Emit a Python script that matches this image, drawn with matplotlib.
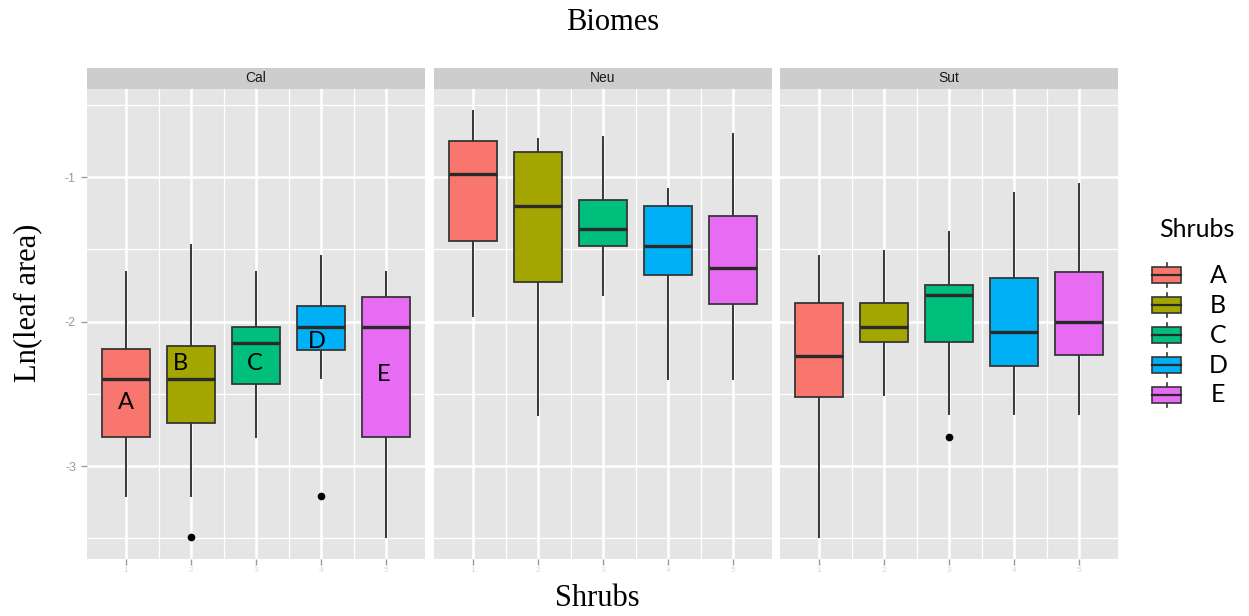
import matplotlib
matplotlib.use("Agg")
import matplotlib.pyplot as plt
from matplotlib.patches import Rectangle
from matplotlib.lines import Line2D

# ---------------- data ----------------
biomes = ["Cal", "Neu", "Sut"]
shrubs = ["A", "B", "C", "D", "E"]
colors = ["#F8766D", "#A3A500", "#00BF7D", "#00B0F6", "#E76BF3"]
x_tick_labels = ["1", "2", "3", "4", "5"]
y_ticks = [-3, -2, -1]
y_tick_labels = ["-3", "-2", "-1"]

whislo = {
    "Cal": [-3.21, -3.21, -2.80, -2.39, -3.49],
    "Neu": [-1.96, -2.65, -1.82, -2.40, -2.40],
    "Sut": [-3.49, -2.51, -2.64, -2.64, -2.64],
}
q1 = {
    "Cal": [-2.80, -2.70, -2.43, -2.20, -2.80],
    "Neu": [-1.44, -1.73, -1.48, -1.68, -1.88],
    "Sut": [-2.52, -2.14, -2.14, -2.31, -2.23],
}
med = {
    "Cal": [-2.40, -2.40, -2.15, -2.04, -2.04],
    "Neu": [-0.98, -1.20, -1.36, -1.48, -1.63],
    "Sut": [-2.24, -2.04, -1.82, -2.07, -2.00],
}
q3 = {
    "Cal": [-2.19, -2.17, -2.04, -1.89, -1.83],
    "Neu": [-0.75, -0.83, -1.16, -1.20, -1.27],
    "Sut": [-1.87, -1.87, -1.75, -1.70, -1.66],
}
whishi = {
    "Cal": [-1.66, -1.47, -1.66, -1.55, -1.66],
    "Neu": [-0.54, -0.74, -0.72, -1.08, -0.70],
    "Sut": [-1.55, -1.51, -1.38, -1.11, -1.05],
}
outliers = {
    "Cal": [[], [-3.49], [], [-3.21], []],
    "Neu": [[], [], [], [], []],
    "Sut": [[], [], [-2.80], [], []],
}

# ---------------- layout ----------------
W, H = 1249, 616
fig = plt.figure(figsize=(W / 100, H / 100), dpi=100)
fig.patch.set_facecolor("white")


def px_axes(x0, y0, x1, y1):
    return fig.add_axes([x0 / W, 1 - y1 / H, (x1 - x0) / W, (y1 - y0) / H])


panel_x = [(87, 425), (434, 772), (780, 1118)]
panel_top, panel_bot = 89, 558.7
strip_top = 68

ylim = (-3.6415, -0.391)
positions = list(range(1, len(shrubs) + 1))

# letter annotations inside Cal boxes (category offset, y)
cal_letter_pos = [(1.0, -2.56), (1.84, -2.29), (2.98, -2.29), (3.93, -2.14), (4.96, -2.37)]

for bi, biome in enumerate(biomes):
    x0, x1 = panel_x[bi]
    ax = px_axes(x0, panel_top, x1, panel_bot)
    ax.set_facecolor("#E5E5E5")
    ax.set_xlim(0.4, 5.6)
    ax.set_ylim(*ylim)
    for s in ax.spines.values():
        s.set_visible(False)

    # grid
    for y in [-3.5, -2.5, -1.5, -0.5]:
        ax.axhline(y, color="white", lw=0.9, zorder=0)
    for y in y_ticks:
        ax.axhline(y, color="white", lw=1.8, zorder=0)
    for x in [1.5, 2.5, 3.5, 4.5]:
        ax.axvline(x, color="white", lw=0.9, zorder=0)
    for x in positions:
        ax.axvline(x, color="white", lw=1.8, zorder=0)

    stats = []
    for i, sh in enumerate(shrubs):
        stats.append(dict(label=sh, med=med[biome][i], q1=q1[biome][i], q3=q3[biome][i],
                          whislo=whislo[biome][i], whishi=whishi[biome][i],
                          fliers=outliers[biome][i]))
    bp = ax.bxp(stats, positions=positions, widths=0.75, patch_artist=True,
                showcaps=False, manage_ticks=False,
                boxprops=dict(edgecolor="#363636", linewidth=1.3),
                medianprops=dict(color="#2a2a2a", linewidth=2.4),
                whiskerprops=dict(color="#363636", linewidth=1.4),
                flierprops=dict(marker="o", markerfacecolor="black",
                                markeredgecolor="black", markersize=4.5))
    for patch, c in zip(bp["boxes"], colors):
        patch.set_facecolor(c)
        patch.set_zorder(3)
    for m in bp["medians"]:
        m.set_zorder(4)

    ax.set_xticks(positions)
    ax.set_xticklabels(x_tick_labels, color="#d8d8d8", fontsize=6,
                       family="Liberation Sans")
    ax.tick_params(axis="x", length=4, width=1, color="#9a9a9a", pad=2)
    ax.set_yticks(y_ticks)
    if bi == 0:
        ax.set_yticklabels(y_tick_labels, color="#9a9a9a", fontsize=9,
                           family="Liberation Sans")
        ax.tick_params(axis="y", length=4, width=1, color="#9a9a9a", pad=4)
    else:
        ax.tick_params(axis="y", length=0, labelleft=False)

    if biome == "Cal":
        for (lx, ly), sh in zip(cal_letter_pos, shrubs):
            ax.text(lx, ly, sh, ha="center", va="center", fontsize=17,
                    family="Lato", color="black", zorder=6)

    # strip
    sax = px_axes(x0, strip_top, x1, panel_top)
    sax.set_facecolor("#CDCDCD")
    sax.set_xticks([])
    sax.set_yticks([])
    for s in sax.spines.values():
        s.set_visible(False)
    sax.text(0.5, 0.5, biome, ha="center", va="center", fontsize=10,
             family="Liberation Sans", color="#1a1a1a", transform=sax.transAxes)

# titles
fig.text(613 / W, 1 - 22 / H, "Biomes", ha="center", va="center",
         fontsize=22, family="Liberation Serif")
fig.text(597 / W, 1 - 598 / H, "Shrubs", ha="center", va="center",
         fontsize=22, family="Liberation Serif")
fig.text(28 / W, 1 - 303 / H, "Ln(leaf area)", ha="center", va="center",
         rotation=90, fontsize=22, family="Liberation Serif")

# legend
lax = px_axes(1130, 200, 1249, 420)
lax.set_xlim(1130, 1249)
lax.set_ylim(420, 200)
lax.axis("off")
lax.text(1197, 229, "Shrubs", ha="center", va="center", fontsize=18, family="Lato")
for i, (sh, c) in enumerate(zip(shrubs, colors)):
    yc = 275 + 30 * i
    lax.add_patch(Rectangle((1152, yc - 8), 29, 16, facecolor=c,
                            edgecolor="#363636", lw=1.2, zorder=3))
    lax.add_line(Line2D([1152, 1181], [yc, yc], color="#2a2a2a", lw=1.6, zorder=4))
    lax.add_line(Line2D([1166.5, 1166.5], [yc - 12, yc - 8], color="#363636", lw=1.2))
    lax.add_line(Line2D([1166.5, 1166.5], [yc + 8, yc + 12], color="#363636", lw=1.2))
    lax.text(1218, yc, sh, ha="center", va="center", fontsize=18, family="Lato")

fig.savefig("out.png", dpi=100, facecolor="white")
